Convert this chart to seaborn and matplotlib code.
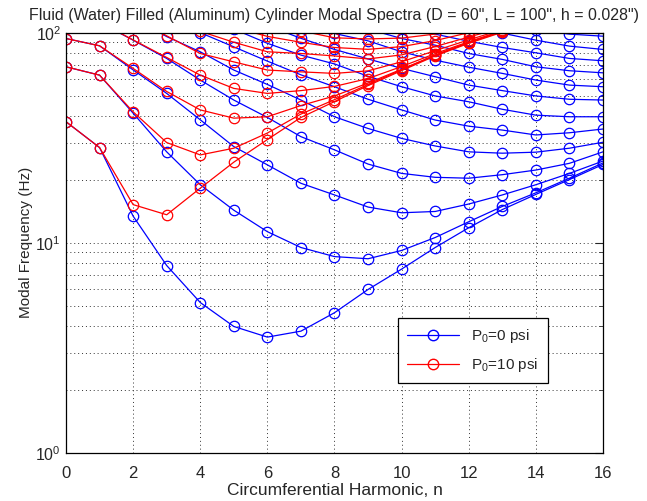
import numpy as np
import pandas as pd
import seaborn as sns
import matplotlib
matplotlib.use('Agg')
import matplotlib.pyplot as plt
from matplotlib.lines import Line2D
from matplotlib.ticker import LogLocator, NullFormatter

# circumferential harmonic n
n_harm = list(range(17))

# P0 = 0 psi, axial modes m = 1..13 (values above 100 Hz run off the top)
blue_m1 = [37.7, 28.4, 13.4, 7.8, 5.2, 4.0, 3.56, 3.8, 4.65, 6.0, 7.5, 9.5, 11.8, 14.4, 17.0, 20.0, 23.6]
blue_m2 = [68.8, 62.8, 41.4, 27.1, 18.9, 14.3, 11.3, 9.5, 8.6, 8.4, 9.2, 10.6, 12.6, 14.9, 17.3, 20.3, 24.0]
blue_m3 = [93.8, 86.6, 66.5, 51.4, 38.5, 28.7, 23.5, 19.2, 16.9, 14.8, 13.9, 14.1, 15.3, 16.9, 18.9, 21.4, 24.5]
blue_m4 = [125, 112, 92.1, 75.4, 59.5, 47.8, 39.5, 32.0, 27.7, 23.7, 21.4, 20.5, 20.3, 21.1, 22.2, 23.9, 27.1]
blue_m5 = [150, 140, 118, 95.8, 81.1, 66.4, 56.7, 47.8, 39.8, 35.0, 31.4, 28.9, 27.1, 26.7, 27.0, 28.2, 30.1]
blue_m6 = [175, 165, 142, 120, 100, 85.6, 73.2, 63.0, 55.3, 48.2, 42.9, 38.4, 35.9, 34.4, 32.6, 33.4, 34.8]
blue_m7 = [200, 190, 168, 142, 120, 104, 89.0, 78.2, 71.0, 62.0, 55.3, 50.0, 46.9, 43.2, 40.5, 39.8, 39.8]
blue_m8 = [225, 215, 195, 168, 142, 125, 108, 94.0, 83.2, 75.0, 67.6, 61.7, 56.3, 53.0, 50.0, 48.2, 47.8]
blue_m9 = [250, 240, 220, 190, 165, 145, 128, 112, 99.1, 91.4, 81.1, 74.0, 68.5, 64.0, 59.5, 56.3, 55.3]
blue_m10 = [280, 270, 250, 220, 190, 168, 150, 132, 118, 104, 93.8, 87.2, 79.6, 74.6, 68.8, 65.9, 64.4]
blue_m11 = [310, 300, 280, 250, 220, 195, 172, 152, 135, 118, 106, 98.4, 91.0, 85.0, 80.2, 75.4, 73.5]
blue_m12 = [340, 330, 310, 280, 250, 222, 198, 175, 155, 137, 122, 112, 105, 99.5, 92.1, 86.3, 83.2]
blue_m13 = [370, 360, 340, 310, 280, 250, 225, 200, 178, 158, 140, 128, 120, 110, 103, 98.4, 96.2]

# P0 = 10 psi, n = 0..13 only
red_m1 = [37.7, 28.4, 15.2, 13.6, 18.2, 24.2, 31.0, 39.5, 47.0, 56.0, 66.0, 77.5, 89.0, 100.5]
red_m2 = [68.8, 62.8, 42.0, 30.0, 26.2, 28.2, 33.3, 41.0, 48.0, 56.7, 66.6, 78.2, 89.9, 101.5]
red_m3 = [93.8, 86.6, 67.6, 52.5, 42.9, 39.2, 39.8, 45.0, 50.0, 57.6, 67.0, 78.1, 89.6, 101.4]
red_m4 = [125, 112, 92.4, 76.2, 62.8, 54.3, 51.4, 53.0, 55.5, 60.5, 69.0, 79.5, 90.6, 102.2]
red_m5 = [150, 140, 118, 96.6, 79.6, 72.6, 66.4, 65.1, 64.0, 65.8, 72.7, 82.1, 92.4, 103.5]
red_m6 = [175, 165, 142, 120.5, 101.5, 90.0, 81.1, 79.6, 77.5, 75.0, 78.4, 85.9, 95.3, 105.7]
red_m7 = [200, 190, 168, 143, 121, 106, 96.0, 90.0, 85.0, 83.3, 85.8, 91.7, 100.0, 109]
red_m8 = [225, 215, 195, 168, 143, 127, 112, 102, 94.5, 93.4, 94.2, 98.5, 104.7, 113]

blue_modes = [blue_m1, blue_m2, blue_m3, blue_m4, blue_m5, blue_m6, blue_m7,
              blue_m8, blue_m9, blue_m10, blue_m11, blue_m12, blue_m13]
red_modes = [red_m1, red_m2, red_m3, red_m4, red_m5, red_m6, red_m7, red_m8]

rows = []
for m, vals in enumerate(blue_modes, 1):
    for n, f in zip(n_harm, vals):
        rows.append(('0', m, n, f))
for m, vals in enumerate(red_modes, 1):
    for n, f in zip(n_harm, vals):
        rows.append(('10', m, n, f))
df = pd.DataFrame(rows, columns=['pressure', 'mode', 'n', 'freq'])

sns.set_style('white')
plt.rcParams['font.family'] = ['Liberation Sans', 'DejaVu Sans']
plt.rcParams['mathtext.default'] = 'regular'

fig = plt.figure(figsize=(6.47, 5.01), dpi=100)
ax = fig.add_axes([0.102, 0.0958, 0.830, 0.839])

for p, col in [('0', 'blue'), ('10', 'red')]:
    sns.lineplot(data=df[df.pressure == p], x='n', y='freq', units='mode',
                 estimator=None, color=col, lw=0.9, marker='o', markersize=7.5,
                 markerfacecolor='none', markeredgecolor=col,
                 markeredgewidth=0.9, ax=ax)

ax.set_yscale('log')
ax.set_xlim(0, 16)
ax.set_ylim(1, 100)
ax.set_xticks(range(0, 17, 2))
ax.yaxis.set_minor_locator(LogLocator(base=10, subs=np.arange(2, 10)))
ax.yaxis.set_minor_formatter(NullFormatter())

ax.grid(True, which='major', color='0.2', linestyle=(0, (1, 3)), lw=0.7)
ax.grid(True, which='minor', axis='y', color='0.2', linestyle=(0, (1, 3)), lw=0.7)
ax.tick_params(which='both', direction='in', top=True, right=True)
ax.tick_params(axis='x', labelsize=12, pad=9)
ax.tick_params(axis='y', labelsize=11.5)
ax.tick_params(which='major', length=6)
ax.tick_params(which='minor', length=3)
for s in ax.spines.values():
    s.set_color('black')
    s.set_linewidth(0.9)

ax.set_title('Fluid (Water) Filled (Aluminum) Cylinder Modal Spectra (D = 60", L = 100", h = 0.028")',
             fontsize=11.5, pad=9)
ax.set_xlabel('Circumferential Harmonic, n', fontsize=12.5, labelpad=2)
ax.set_ylabel('Modal Frequency (Hz)', fontsize=11, labelpad=2)

handles = [Line2D([], [], color='blue', lw=0.9, marker='o', markersize=7.5,
                  markerfacecolor='none', markeredgecolor='blue'),
           Line2D([], [], color='red', lw=0.9, marker='o', markersize=7.5,
                  markerfacecolor='none', markeredgecolor='red')]
leg = ax.legend(handles, ['P$_0$=0 psi', 'P$_0$=10 psi'], loc='upper left',
                bbox_to_anchor=(0.618, 0.321), borderaxespad=0, fontsize=11,
                frameon=True, fancybox=False, edgecolor='black', framealpha=1,
                handlelength=3.4, borderpad=0.6, labelspacing=0.7)
leg.get_frame().set_linewidth(0.9)

fig.savefig('out.png', dpi=100)
